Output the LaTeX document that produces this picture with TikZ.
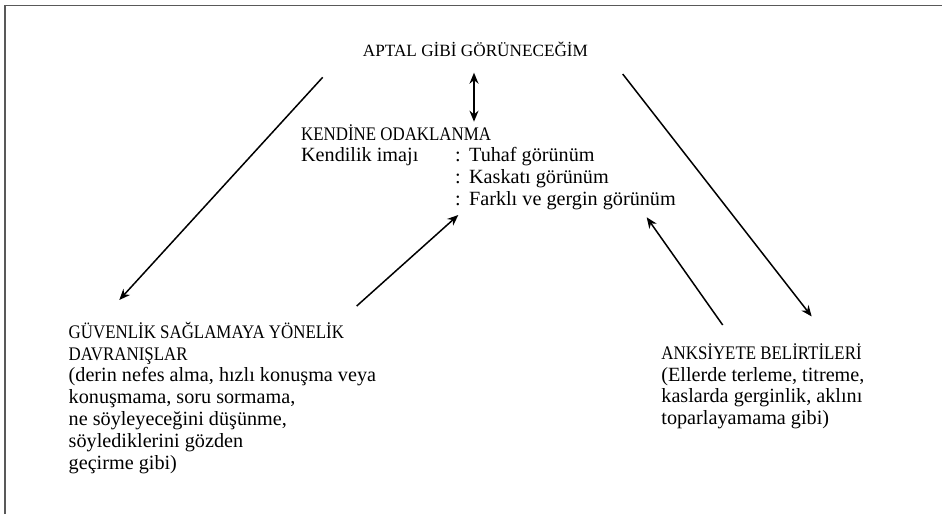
\documentclass[tikz,border=0pt]{standalone}
\usepackage{fontspec}
\setmainfont{Liberation Serif}
\newfontfamily\capfont[FakeStretch=0.88]{Liberation Serif}
\usetikzlibrary{arrows.meta, positioning}
\newcommand{\headtxt}[1]{{\capfont\fontsize{9.6}{10.9}\selectfont #1}}

\begin{document}
\begin{tikzpicture}[
        x=0.5pt, y=-0.5pt,
        txt/.style={inner sep=0pt, anchor=base west, font=\fontsize{10.1}{10.9}\selectfont},
        arr/.style={-{Stealth[length=5.5pt, width=4.5pt]}, line width=0.75pt},
        dbl/.style={{Stealth[length=5.5pt, width=4.5pt]}-{Stealth[length=5.5pt, width=4.5pt]}, line width=0.75pt}
    ]
        \useasboundingbox (0,0) rectangle (942,514);
        % frame
        \draw[gray!70!black, line width=0.8pt] (5,514) -- (5,5.5) -- (942,5.5);

        \node[txt, anchor=base, font=\fontsize{8.6}{10.9}\selectfont] (fear) at (475.5,56.7) {APTAL GİBİ GÖRÜNECEĞİM};
        \node[txt] (focus) at (300.7,140) {\begin{tabular}[t]{@{}p{77pt}@{}l@{}}
            \multicolumn{2}{@{}l@{}}{\headtxt{KENDİNE ODAKLANMA}}\\
            Kendilik imajı & \makebox[7pt][l]{:}Tuhaf görünüm\\
                           & \makebox[7pt][l]{:}Kaskatı görünüm\\
                           & \makebox[7pt][l]{:}Farklı ve gergin görünüm
        \end{tabular}};
        \node[txt] (safety) at (68.3,338.3) {\begin{tabular}[t]{@{}l@{}}
            \headtxt{GÜVENLİK SAĞLAMAYA YÖNELİK}\\
            \headtxt{DAVRANIŞLAR}\\
            (derin nefes alma, hızlı konuşma veya\\
            konuşmama, soru sormama,\\
            ne söyleyeceğini düşünme,\\
            söylediklerini gözden\\
            geçirme gibi)
        \end{tabular}};
        \node[txt] (anxiety) at (661,359.3) {\begin{tabular}[t]{@{}l@{}}
            \headtxt{ANKSİYETE BELİRTİLERİ}\\
            (Ellerde terleme, titreme,\\
            kaslarda gerginlik, aklını\\
            toparlayamama gibi)
        \end{tabular}};

        % arrow ends
        \coordinate (fear-l)    at (322.7,77.3);
        \coordinate (fear-r)    at (622.7,74);
        \coordinate (fear-b)    at (474,72.7);
        \coordinate (focus-t)   at (474,121.7);
        \coordinate (focus-l)   at (458.3,215);
        \coordinate (focus-r)   at (646.7,217.3);
        \coordinate (safety-t)  at (119.3,300);
        \coordinate (safety-r)  at (356.7,306);
        \coordinate (anxiety-t) at (811.7,316.5);
        \coordinate (anxiety-l) at (722.7,325);

        \draw[dbl] (fear-b) -- (focus-t);
        \draw[arr] (fear-l) -- (safety-t);
        \draw[arr] (fear-r) -- (anxiety-t);
        \draw[arr] (safety-r) -- (focus-l);
        \draw[arr] (anxiety-l) -- (focus-r);
    \end{tikzpicture}
\end{document}
